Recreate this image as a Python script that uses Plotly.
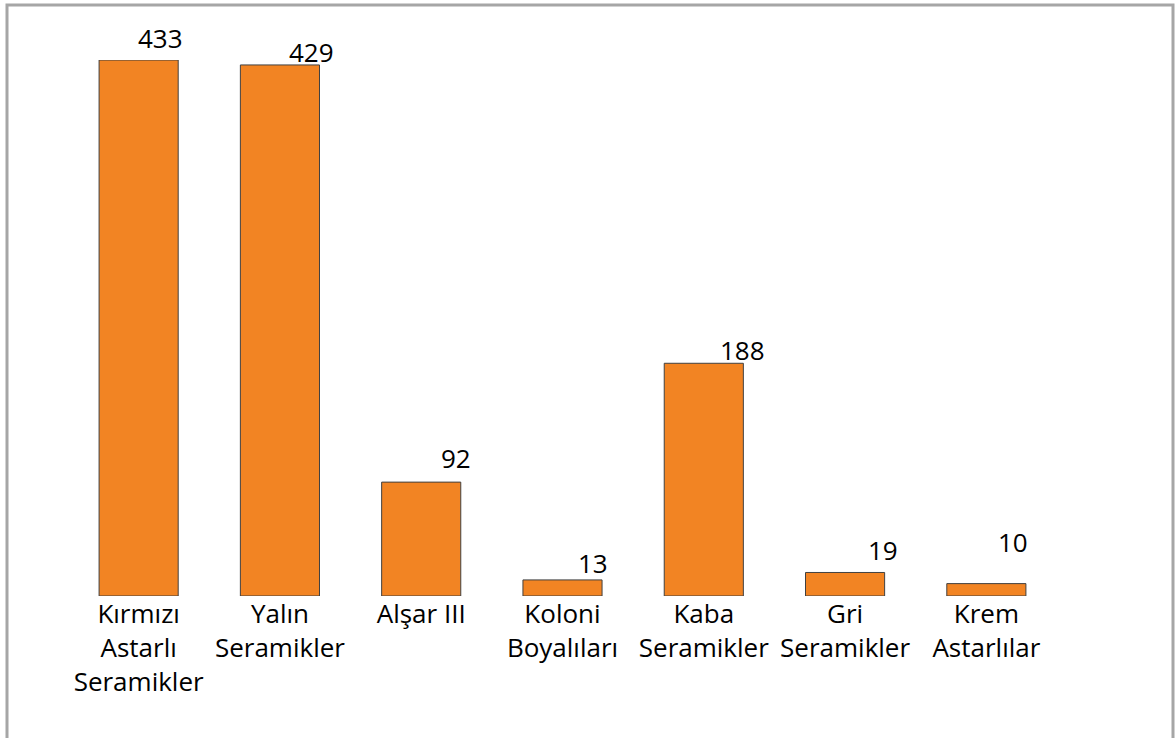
import plotly.graph_objects as go

# Seramik grupları ve parça sayıları
categories = [
    "Kırmızı<br>Astarlı<br>Seramikler",
    "Yalın<br>Seramikler",
    "Alşar III",
    "Koloni<br>Boyalıları",
    "Kaba<br>Seramikler",
    "Gri<br>Seramikler",
    "Krem<br>Astarlılar",
]
counts = [433, 429, 92, 13, 188, 19, 10]

# Pixel offsets of each count label relative to its bar's top-centre
label_dx = [22, 32, 35, 30, 39, 38, 27]
label_dy = [22, 13, 24, 17, 13, 22, 42]

W, H = 1175, 738
L, R, T, B = 68, 118, 60, 142
pw, ph = W - L - R, H - T - B

fig = go.Figure(
    go.Bar(
        x=categories,
        y=counts,
        width=0.56,
        marker=dict(color="#F28423", line=dict(color="#404040", width=1)),
        hoverinfo="x+y",
    )
)

for cat, val, dx, dy in zip(categories, counts, label_dx, label_dy):
    fig.add_annotation(
        x=cat, y=val, text=str(val), showarrow=False,
        xshift=dx, yshift=dy, xanchor="center", yanchor="middle",
        font=dict(family="Open Sans", size=26, color="#000000"),
    )

# Grey frame around the whole chart
def px_x(p):
    return (p - L) / pw

def px_y(p):
    return (H - B - p) / ph

fig.add_shape(
    type="rect", xref="paper", yref="paper",
    x0=px_x(7), x1=px_x(1173), y0=px_y(760), y1=px_y(5),
    line=dict(color="#A6A6A6", width=3), fillcolor="rgba(0,0,0,0)",
    layer="below",
)

fig.update_layout(
    width=W, height=H,
    margin=dict(l=L, r=R, t=T, b=B, pad=0),
    paper_bgcolor="white", plot_bgcolor="white",
    showlegend=False,
    font=dict(family="Open Sans", color="#000000"),
    xaxis=dict(
        showgrid=False, zeroline=False, showline=False, ticks="",
        tickfont=dict(family="Open Sans", size=26, color="#000000"),
        ticklabelstandoff=0,
    ),
    yaxis=dict(
        range=[0, 433], showgrid=False, zeroline=False, showline=False,
        showticklabels=False, ticks="",
    ),
)

fig.write_html("out.html")
